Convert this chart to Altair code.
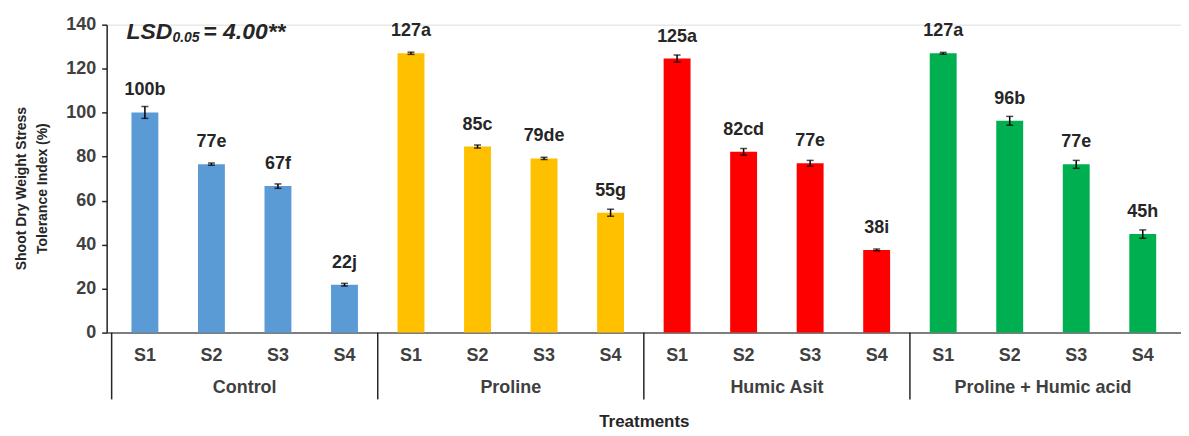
import altair as alt
import pandas as pd

FONT = "Liberation Sans"

groups = ["Control", "Proline", "Humic Asit", "Proline + Humic acid"]
levels = ["S1", "S2", "S3", "S4"]
colors = ["#5B9BD5", "#FFC000", "#FF0000", "#00B050"]

control_vals = [100.1, 76.6, 66.6, 21.8]
proline_vals = [127.0, 84.6, 79.2, 54.5]
humic_vals = [124.6, 82.2, 77.0, 37.6]
combo_vals = [127.0, 96.3, 76.5, 44.8]

control_err = [2.7, 0.5, 1.0, 0.6]
proline_err = [0.5, 0.7, 0.5, 1.6]
humic_err = [1.6, 1.5, 1.3, 0.4]
combo_err = [0.4, 2.0, 1.8, 1.9]

control_lab = ["100b", "77e", "67f", "22j"]
proline_lab = ["127a", "85c", "79de", "55g"]
humic_lab = ["125a", "82cd", "77e", "38i"]
combo_lab = ["127a", "96b", "77e", "45h"]

y_ticks = [0, 20, 40, 60, 80, 100, 120, 140]
lsd_parts = ["LSD", "0.05", "= 4.00**"]

values = [control_vals, proline_vals, humic_vals, combo_vals]
errors = [control_err, proline_err, humic_err, combo_err]
labels = [control_lab, proline_lab, humic_lab, combo_lab]

rows = []
for g, name in enumerate(groups):
    for i, lvl in enumerate(levels):
        v = values[g][i]
        e = errors[g][i]
        rows.append(dict(group=name, level=lvl, pos=g * 4 + i + 0.5, val=v,
                         lo=v - e, hi=v + e, label=labels[g][i]))
df = pd.DataFrame(rows)
gdf = pd.DataFrame({"group": groups, "center": [g * 4 + 2 for g in range(len(groups))]})
ddf = pd.DataFrame({"d": [g * 4 for g in range(len(groups))]})

W, H = 1078, 309
xs = alt.Scale(domain=[0, 16], nice=False, zero=False)
ys = alt.Scale(domain=[0, 140], nice=False)
TXT = "#262626"

base = alt.Chart(df)

bars = base.mark_bar(size=27).encode(
    x=alt.X("pos:Q", scale=xs, axis=alt.Axis(
        title="Treatments", labels=False, ticks=False, grid=False,
        domainColor="#595959", domainWidth=1.5, titlePadding=81,
        titleFontSize=17, titleFontWeight="bold", titleColor=TXT)),
    y=alt.Y("val:Q", scale=ys, axis=alt.Axis(
        values=y_ticks, title=["Shoot Dry Weight Stress", "Tolerance Index (%)"],
        grid=False, domainColor=TXT, domainWidth=1.5, tickColor=TXT,
        tickSize=5, tickWidth=1.5, labelFontSize=18, labelFontWeight="bold",
        labelColor="#404040", labelPadding=6, titleFontSize=14,
        titleFontWeight="bold", titleColor=TXT, titlePadding=16,
        titleLineHeight=21, titleY=164)),
    color=alt.Color("group:N", scale=alt.Scale(domain=groups, range=colors), legend=None),
)

err_rule = base.mark_rule(color="black", strokeWidth=1.5).encode(
    x=alt.X("pos:Q", scale=xs), y=alt.Y("lo:Q", scale=ys), y2="hi:Q")
cap_hi = base.mark_tick(orient="horizontal", size=7, thickness=1.5, color="black").encode(
    x=alt.X("pos:Q", scale=xs), y=alt.Y("hi:Q", scale=ys))
cap_lo = base.mark_tick(orient="horizontal", size=7, thickness=1.5, color="black").encode(
    x=alt.X("pos:Q", scale=xs), y=alt.Y("lo:Q", scale=ys))

bar_text = base.mark_text(dy=-22, fontSize=18, fontWeight="bold", font=FONT,
                          color=TXT, baseline="middle").encode(
    x=alt.X("pos:Q", scale=xs), y=alt.Y("val:Q", scale=ys), text="label:N")

s_text = base.mark_text(fontSize=18, fontWeight="bold", font=FONT, color="#404040",
                        baseline="middle").encode(
    x=alt.X("pos:Q", scale=xs), y=alt.value(H + 23), text="level:N")

g_text = alt.Chart(gdf).mark_text(fontSize=18, fontWeight="bold", font=FONT,
                                  color="#404040", baseline="middle").encode(
    x=alt.X("center:Q", scale=xs), y=alt.value(H + 56), text="group:N")

dividers = alt.Chart(ddf).mark_rule(color=TXT, strokeWidth=1.5).encode(
    x=alt.X("d:Q", scale=xs), y=alt.value(H), y2=alt.value(H + 67))

one = pd.DataFrame({"a": [0]})
lsd1 = alt.Chart(one).mark_text(fontSize=23, fontWeight="bold", fontStyle="italic",
                                font=FONT, color=TXT, align="left",
                                baseline="middle").encode(
    x=alt.value(20), y=alt.value(7), text=alt.value(lsd_parts[0]))
lsd2 = alt.Chart(one).mark_text(fontSize=14, fontWeight="bold", fontStyle="italic",
                                font=FONT, color=TXT, align="left",
                                baseline="middle").encode(
    x=alt.value(66), y=alt.value(13), text=alt.value(lsd_parts[1]))
lsd3 = alt.Chart(one).mark_text(fontSize=23, fontWeight="bold", fontStyle="italic",
                                font=FONT, color=TXT, align="left",
                                baseline="middle").encode(
    x=alt.value(97), y=alt.value(7), text=alt.value(lsd_parts[2]))

chart = alt.layer(
    bars, err_rule, cap_hi, cap_lo, bar_text, s_text, g_text, dividers, lsd1, lsd2, lsd3
).properties(
    width=W, height=H,
    padding={"left": 99, "top": 16, "right": 0, "bottom": 102},
    autosize=alt.AutoSizeParams(type="none"),
).configure_view(stroke=None).configure_axis(
    labelFont=FONT, titleFont=FONT
).configure(background="white")

chart.save("out.html", embed_options={"renderer": "svg", "actions": False})
